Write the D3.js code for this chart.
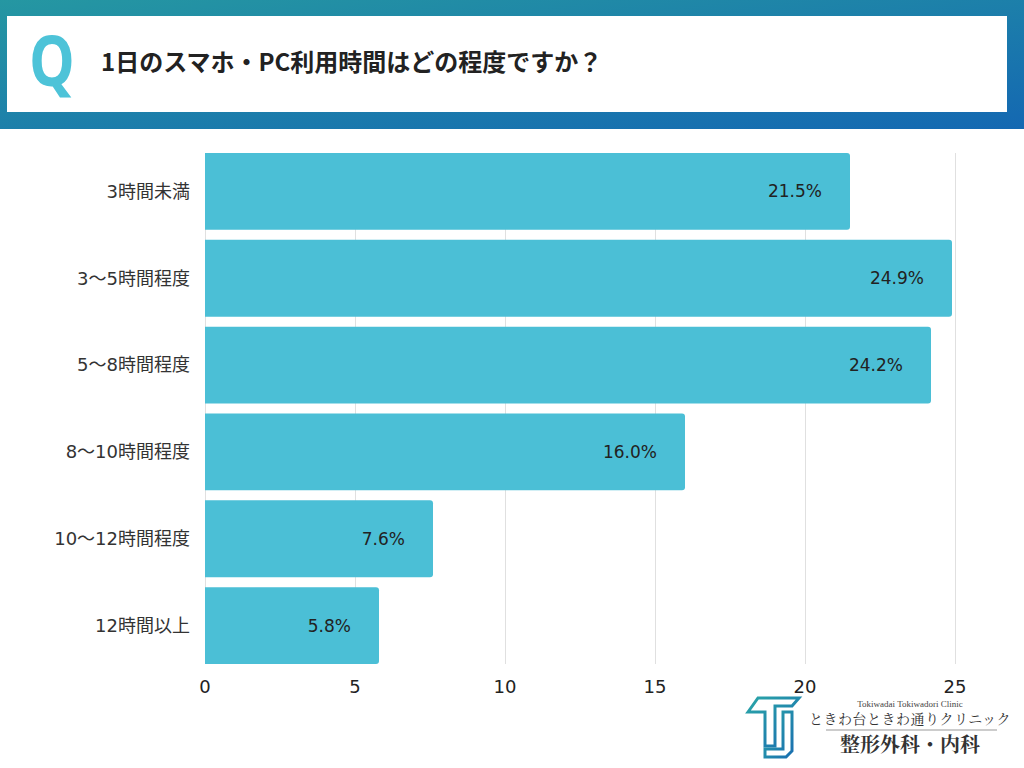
<!DOCTYPE html>
<html>
<head>
<meta charset="utf-8">
<script src="https://cdn.jsdelivr.net/npm/d3@7"></script>
<style>
  body { margin: 0; background: #fff; font-family: "DejaVu Sans", "Noto Sans CJK JP", sans-serif; }
</style>
</head>
<body>
<svg id="chart" width="1024" height="768"></svg>
<script>
var title = "1日のスマホ・PC利用時間はどの程度ですか？";
var categories = ["3時間未満", "3〜5時間程度", "5〜8時間程度", "8〜10時間程度", "10〜12時間程度", "12時間以上"];
var values = [21.5, 24.9, 24.2, 16.0, 7.6, 5.8];
var xTicks = [0, 5, 10, 15, 20, 25];

var svg = d3.select("#chart"),
  margin = { top: 153, right: 69, bottom: 104, left: 205 },
  width = +svg.attr("width") - margin.left - margin.right,
  height = +svg.attr("height") - margin.top - margin.bottom;

var labelFont = "'DejaVu Sans', 'Noto Sans CJK JP', sans-serif";

// header banner
var defs = svg.append("defs");
var grad = defs.append("linearGradient").attr("id", "hdr")
  .attr("x1", "0%").attr("y1", "0%").attr("x2", "100%").attr("y2", "100%");
grad.append("stop").attr("offset", "0%").attr("stop-color", "#2597a2");
grad.append("stop").attr("offset", "100%").attr("stop-color", "#1468b2");

svg.append("rect").attr("x", 0).attr("y", 0).attr("width", 1024).attr("height", 129)
  .attr("fill", "url(#hdr)");
svg.append("rect").attr("x", 7).attr("y", 16).attr("width", 1000).attr("height", 96)
  .attr("fill", "#fff");

svg.append("text")
  .attr("transform", "translate(52,86) scale(0.82,1)")
  .attr("text-anchor", "middle")
  .attr("font-family", "'Noto Sans', sans-serif")
  .attr("font-weight", "bold")
  .attr("font-size", 70)
  .attr("fill", "#4dc3d8")
  .text("Q");

svg.append("text")
  .attr("x", 101).attr("y", 71)
  .attr("font-family", "'Noto Sans CJK JP', sans-serif")
  .attr("font-weight", "bold")
  .attr("font-size", 24)
  .attr("fill", "#222")
  .text(title);

var g = svg.append("g").attr("transform", "translate(" + margin.left + "," + margin.top + ")");

var x = d3.scaleLinear().domain([0, 25]).range([0, width]);
var y = d3.scaleBand().domain(categories).range([0, height]).paddingInner(0.115).paddingOuter(0);

// gridlines
g.selectAll(".grid").data(xTicks).enter().append("line")
  .attr("x1", (d) => x(d)).attr("x2", (d) => x(d))
  .attr("y1", 0).attr("y2", height)
  .attr("stroke", "#e0e0e0").attr("stroke-width", 1)
  .style("shape-rendering", "crispEdges");

// bars with rounded right end
var r = 3;
g.selectAll(".bar").data(values).enter().append("path")
  .attr("fill", "#4bbfd6")
  .attr("d", function (d, i) {
    var x0 = 0, x1 = x(d), y0 = y(categories[i]), h = y.bandwidth();
    return "M" + x0 + "," + y0 + "H" + (x1 - r) + "Q" + x1 + "," + y0 + " " + x1 + "," + (y0 + r) +
      "V" + (y0 + h - r) + "Q" + x1 + "," + (y0 + h) + " " + (x1 - r) + "," + (y0 + h) + "H" + x0 + "Z";
  });

// value labels
g.selectAll(".val").data(values).enter().append("text")
  .attr("x", (d) => x(d) - 28)
  .attr("y", (d, i) => y(categories[i]) + y.bandwidth() / 2)
  .attr("dy", "0.35em")
  .attr("text-anchor", "end")
  .attr("font-family", labelFont)
  .attr("font-size", 17)
  .attr("fill", "#222")
  .text((d) => d.toFixed(1) + "%");

// category labels
g.selectAll(".cat").data(categories).enter().append("text")
  .attr("x", -15)
  .attr("y", (d) => y(d) + y.bandwidth() / 2)
  .attr("dy", "0.35em")
  .attr("text-anchor", "end")
  .attr("font-family", labelFont)
  .attr("font-size", 18)
  .attr("fill", "#333")
  .text((d) => d);

// x tick labels
g.selectAll(".tick-lbl").data(xTicks).enter().append("text")
  .attr("x", (d) => x(d))
  .attr("y", height + 29)
  .attr("text-anchor", "middle")
  .attr("font-family", labelFont)
  .attr("font-size", 18)
  .attr("fill", "#222")
  .text((d) => d);

// clinic logo
var lg = defs.append("linearGradient").attr("id", "logo")
  .attr("x1", "0%").attr("y1", "0%").attr("x2", "100%").attr("y2", "100%");
lg.append("stop").attr("offset", "0%").attr("stop-color", "#2aa5a8");
lg.append("stop").attr("offset", "100%").attr("stop-color", "#1a6fb0");
var logo = svg.append("g");
logo.append("path")
  .attr("d", "M748,712 L758,698 H799 L792,706 H775 V746 H765 V712 Z")
  .attr("fill", "none").attr("stroke", "url(#logo)").attr("stroke-width", 3)
  .attr("stroke-linejoin", "miter");
logo.append("path")
  .attr("d", "M783,712 H792 V751 L786,757 H765 V749 H783 Z")
  .attr("fill", "none").attr("stroke", "url(#logo)").attr("stroke-width", 3)
  .attr("stroke-linejoin", "miter");
logo.append("text").attr("x", 910).attr("y", 707).attr("text-anchor", "middle")
  .attr("font-family", "'Liberation Serif', serif").attr("font-size", 9).attr("fill", "#444")
  .text("Tokiwadai Tokiwadori Clinic");
logo.append("text").attr("x", 910).attr("y", 724).attr("text-anchor", "middle")
  .attr("font-family", "'Noto Serif CJK JP', 'Noto Sans CJK JP', serif")
  .attr("font-size", 14).attr("fill", "#333").attr("letter-spacing", 0.5)
  .text("ときわ台ときわ通りクリニック");
logo.append("line").attr("x1", 826).attr("x2", 997).attr("y1", 730).attr("y2", 730)
  .attr("stroke", "#999").attr("stroke-width", 1);
logo.append("text").attr("x", 910).attr("y", 752).attr("text-anchor", "middle")
  .attr("font-family", "'Noto Serif CJK JP', 'Noto Sans CJK JP', serif")
  .attr("font-weight", "bold").attr("font-size", 20).attr("fill", "#333")
  .text("整形外科・内科");
</script>
</body>
</html>
